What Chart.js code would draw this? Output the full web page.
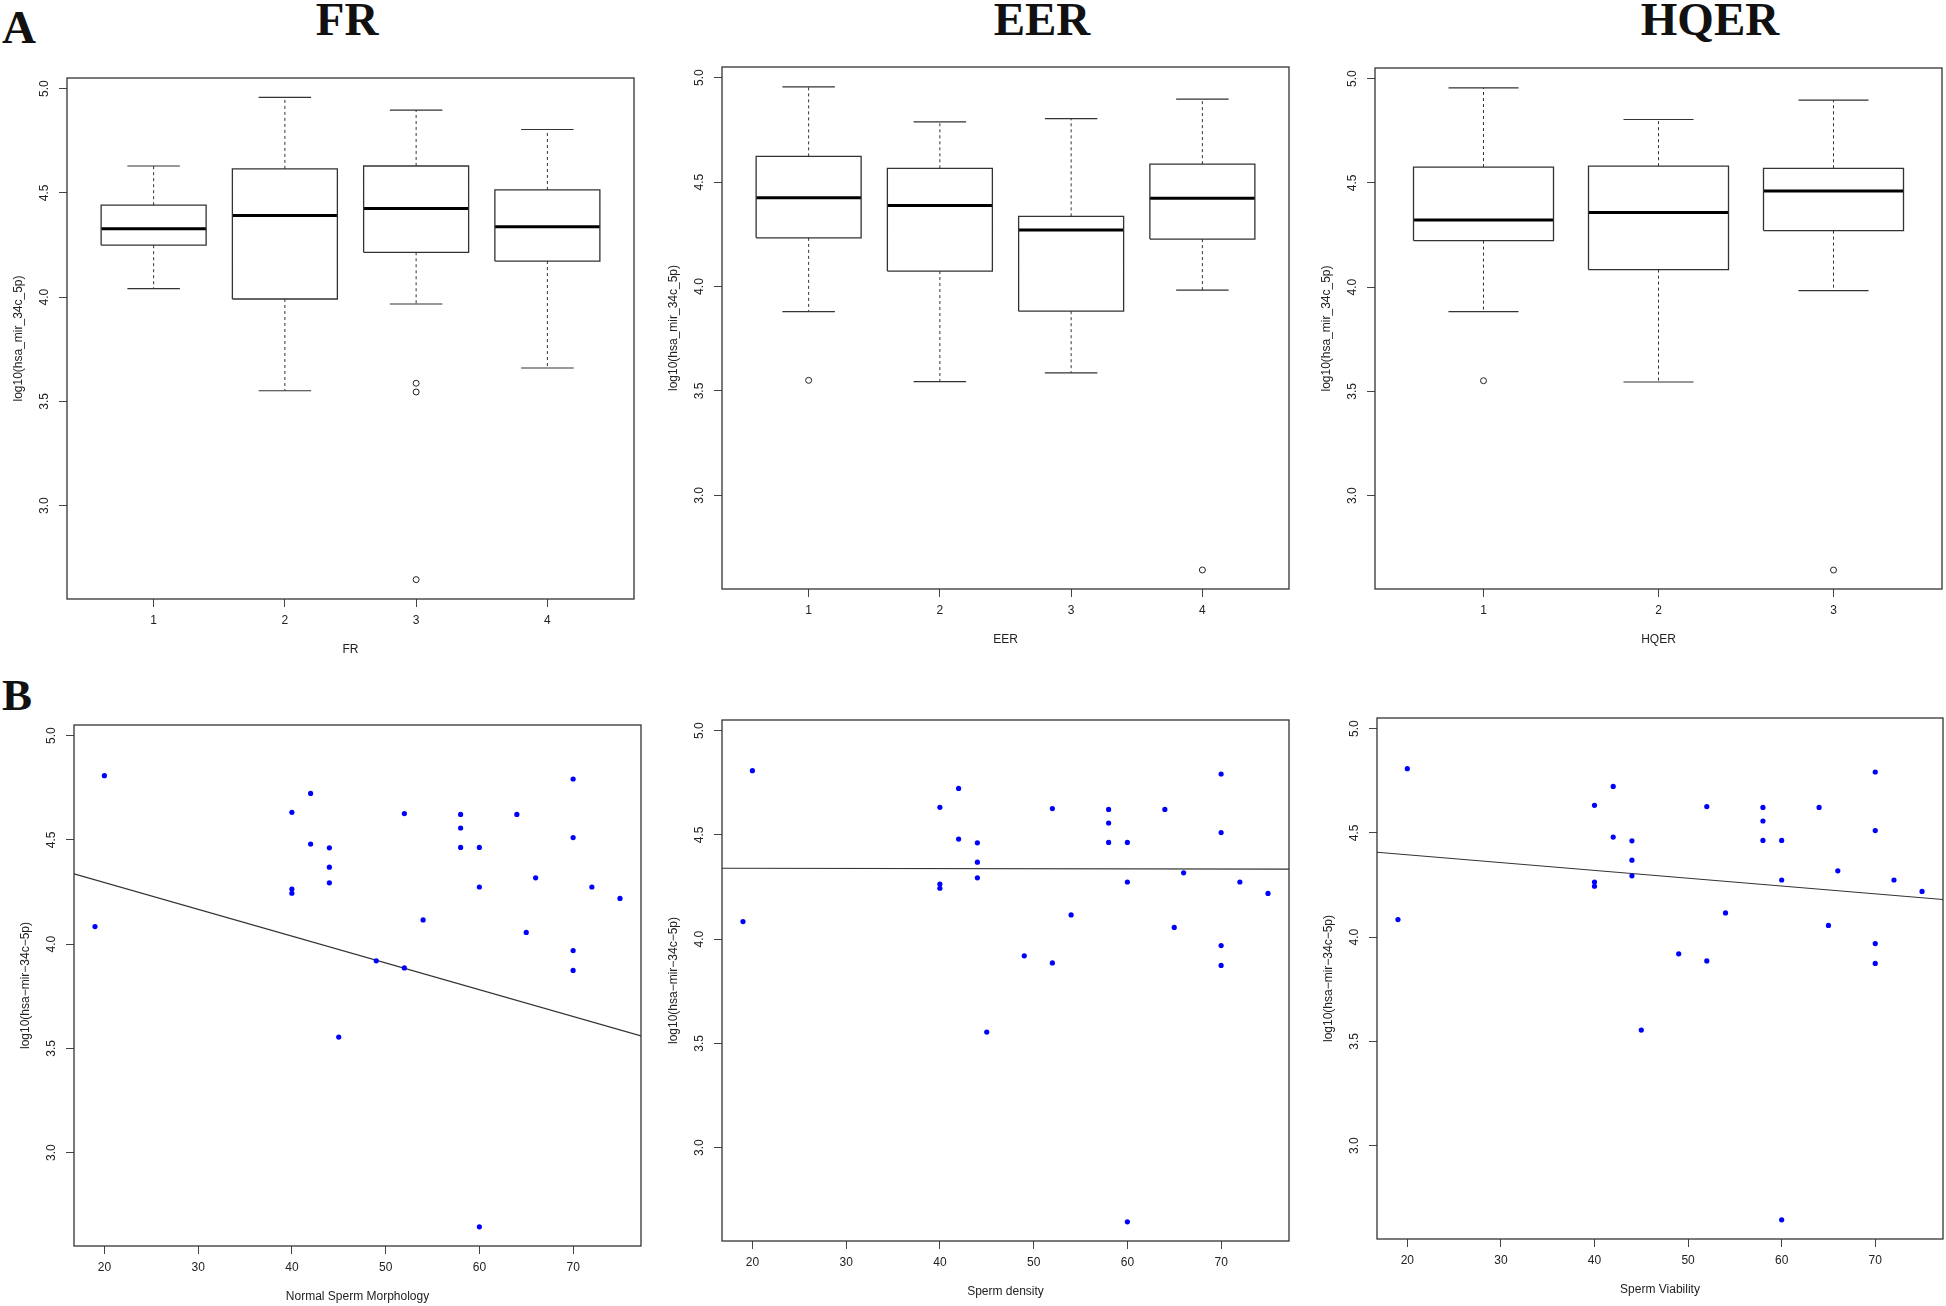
<!DOCTYPE html>
<html><head><meta charset="utf-8">
<script src="https://cdn.jsdelivr.net/npm/chart.js@4.4.1/dist/chart.umd.min.js"></script>
<style>
html,body{margin:0;padding:0;background:#fff;overflow:hidden;width:1946px;height:1306px;position:relative;}
canvas{position:absolute;}
.big{position:absolute;font-family:"Liberation Serif","Times New Roman",serif;font-weight:bold;line-height:1;white-space:nowrap;color:#111;}
.ttl{text-align:center;width:300px;}
</style></head><body>
<div class="big" style="left:2px;top:4px;font-size:47px;">A</div>
<div class="big" style="left:2px;top:673px;font-size:45px;">B</div>
<div class="big ttl" style="left:197px;top:-4px;font-size:47px;">FR</div>
<div class="big ttl" style="left:892px;top:-4px;font-size:47px;">EER</div>
<div class="big ttl" style="left:1560px;top:-4px;font-size:47px;">HQER</div>
<script>
// ---------------- DATA ----------------
const yTickValues = [3.0, 3.5, 4.0, 4.5, 5.0];
const yAxisRange = [2.552, 5.051];

// FR boxplot (groups 1-4)
const frGroups = ["1", "2", "3", "4"];
const frLow  = [4.041, 3.551, 3.967, 3.660];
const frQ1   = [4.249, 3.991, 4.215, 4.173];
const frMed  = [4.328, 4.391, 4.425, 4.338];
const frQ3   = [4.441, 4.615, 4.629, 4.514];
const frHigh = [4.629, 4.958, 4.897, 4.804];
const frOutGroup = [3, 3, 3];
const frOutValue = [3.587, 3.545, 2.645];

// EER boxplot (groups 1-4)
const eerGroups = ["1", "2", "3", "4"];
const eerLow  = [3.880, 3.545, 3.587, 3.983];
const eerQ1   = [4.233, 4.074, 3.882, 4.227];
const eerMed  = [4.425, 4.388, 4.271, 4.423];
const eerQ3   = [4.623, 4.566, 4.336, 4.586];
const eerHigh = [4.956, 4.788, 4.804, 4.897];
const eerOutGroup = [1, 4];
const eerOutValue = [3.551, 2.643];

// HQER boxplot (groups 1-3)
const hqerGroups = ["1", "2", "3"];
const hqerLow  = [3.882, 3.545, 3.983];
const hqerQ1   = [4.223, 4.084, 4.271];
const hqerMed  = [4.322, 4.358, 4.461];
const hqerQ3   = [4.576, 4.580, 4.570];
const hqerHigh = [4.956, 4.804, 4.897];
const hqerOutGroup = [1, 3];
const hqerOutValue = [3.551, 2.643];

// Scatter samples (same points appear in all three B panels)
const sampleX = [20, 19, 40, 40, 40, 42, 42, 44, 44, 44, 45, 49, 52, 52, 54,
                 58, 58, 58, 60, 60, 60, 64, 65, 66, 70, 70, 70, 70, 72, 75];
const sampleY = [4.808, 4.084, 4.632, 4.264, 4.244, 4.723, 4.480, 4.462, 4.369, 4.294,
                 3.554, 3.920, 4.626, 3.886, 4.116, 4.622, 4.557, 4.464, 4.464, 4.274,
                 2.644, 4.622, 4.056, 4.318, 4.792, 4.511, 3.969, 3.874, 4.274, 4.219];
const scatterXTicks = [20, 30, 40, 50, 60, 70];
const scatterXRange = [16.76, 77.24];
// fitted lines: y = intercept + slope * x
const fitIntercept = [4.5525, 4.341, 4.470];
const fitSlope     = [-0.01285, -0.000066, -0.00375];

// ---------------- RENDERING ----------------
const FONT = '"Liberation Sans", Arial, Helvetica, sans-serif';
const INK = '#222';
const frame = {id: 'frame', afterDraw(c) {
  const a = c.chartArea, x = c.ctx;
  x.save(); x.strokeStyle = '#333'; x.lineWidth = 1.3;
  x.strokeRect(a.left, a.top, a.right - a.left, a.bottom - a.top);
  x.restore();
}};

function gridOpts() {
  return {display: true, drawOnChartArea: false, drawTicks: true, tickLength: 8, color: '#444', lineWidth: 1};
}
function yScale(title) {
  return {type: 'linear', min: yAxisRange[0], max: yAxisRange[1],
    afterBuildTicks: s => { s.ticks = yTickValues.map(v => ({value: v})); },
    afterFit: s => { s.width = 60; },
    grid: gridOpts(), border: {display: false},
    ticks: {minRotation: 90, maxRotation: 90, crossAlign: 'center', padding: 5.7, color: INK,
      font: {family: FONT, size: 12}, callback: v => Number(v).toFixed(1)},
    title: {display: true, text: title, color: INK, font: {family: FONT, size: 12}, padding: {top: 4.8, bottom: 0}}
  };
}
function xScale(title, range, vals, lbls, h, pb) {
  return {type: 'linear', min: range[0], max: range[1],
    afterBuildTicks: s => { s.ticks = vals.map(v => ({value: v})); },
    afterFit: s => { s.height = h; },
    grid: gridOpts(), border: {display: false},
    ticks: {autoSkip: false, minRotation: 0, maxRotation: 0, padding: 6.8, color: INK,
      font: {family: FONT, size: 12}, callback: (v, i) => lbls[i]},
    title: {display: true, text: title, color: INK, font: {family: FONT, size: 12}, padding: {top: 0, bottom: pb}}
  };
}

function boxDatasets(low, q1, med, q3, high, outG, outV) {
  const BW = 0.4, CW = 0.2, gap = {x: null, y: null};
  const boxes = [], meds = [], whisk = [], caps = [];
  q1.forEach((_, i) => {
    const g = i + 1;
    boxes.push({x: g - BW, y: q1[i]}, {x: g + BW, y: q1[i]}, {x: g + BW, y: q3[i]}, {x: g - BW, y: q3[i]}, {x: g - BW, y: q1[i]}, gap);
    meds.push({x: g - BW, y: med[i]}, {x: g + BW, y: med[i]}, gap);
    whisk.push({x: g, y: q3[i]}, {x: g, y: high[i]}, gap, {x: g, y: q1[i]}, {x: g, y: low[i]}, gap);
    caps.push({x: g - CW, y: high[i]}, {x: g + CW, y: high[i]}, gap, {x: g - CW, y: low[i]}, {x: g + CW, y: low[i]}, gap);
  });
  const line = (data, w, dash, col) => ({data, showLine: true, pointRadius: 0, borderColor: col, borderWidth: w, borderDash: dash, spanGaps: false, fill: false});
  return [
    line(whisk, 1, [3, 3], '#333'),
    line(caps, 1.2, [], '#333'),
    line(boxes, 1.3, [], '#333'),
    line(meds, 3, [], '#000'),
    {data: outG.map((g, i) => ({x: g, y: outV[i]})), showLine: false, pointRadius: 3, pointBorderWidth: 1,
     pointBorderColor: '#222', pointBackgroundColor: 'rgba(255,255,255,0)'}
  ];
}

function scatterDatasets(k) {
  const pts = sampleX.map((x, i) => ({x, y: sampleY[i]}));
  return [
    {data: pts, showLine: false, pointRadius: 2.6, pointBorderWidth: 0, pointBackgroundColor: '#0000ff'},
    {data: scatterXRange.map(x => ({x, y: fitIntercept[k] + fitSlope[k] * x})), showLine: true, pointRadius: 0,
     borderColor: '#333', borderWidth: 1.2, fill: false}
  ];
}

function makePanel(geo, datasets, xs, ys, hx) {
  const W = 60, PT = 20, PR = 10;
  const cv = document.createElement('canvas');
  const w = (geo.R - geo.L) + W + PR, h = PT + (geo.B - geo.T) + hx;
  cv.width = w; cv.height = h;
  cv.style.left = (geo.L - W) + 'px'; cv.style.top = (geo.T - PT) + 'px';
  cv.style.width = w + 'px'; cv.style.height = h + 'px';
  document.body.appendChild(cv);
  new Chart(cv, {type: 'scatter', data: {datasets},
    options: {responsive: false, animation: false, devicePixelRatio: 1, events: [],
      layout: {padding: {top: PT, right: PR, left: 0, bottom: 0}},
      plugins: {legend: {display: false}, tooltip: {enabled: false}, title: {display: false}},
      scales: {x: xs, y: ys}},
    plugins: [frame]});
}

const yTitleA = 'log10(hsa_mir_34c_5p)';
const yTitleB = 'log10(hsa\u2212mir\u221234c\u22125p)';
const range4 = [0.34, 4.66], range3 = [0.38, 3.62];

makePanel({L: 67, R: 634, T: 78, B: 599},
  boxDatasets(frLow, frQ1, frMed, frQ3, frHigh, frOutGroup, frOutValue),
  xScale('FR', range4, [1, 2, 3, 4], frGroups, 60, 2.3), yScale(yTitleA), 60);
makePanel({L: 722, R: 1289, T: 67, B: 589},
  boxDatasets(eerLow, eerQ1, eerMed, eerQ3, eerHigh, eerOutGroup, eerOutValue),
  xScale('EER', range4, [1, 2, 3, 4], eerGroups, 60, 2.3), yScale(yTitleA), 60);
makePanel({L: 1375, R: 1942, T: 68, B: 589},
  boxDatasets(hqerLow, hqerQ1, hqerMed, hqerQ3, hqerHigh, hqerOutGroup, hqerOutValue),
  xScale('HQER', range3, [1, 2, 3], hqerGroups, 60, 2.3), yScale(yTitleA), 60);

const sLbl = scatterXTicks.map(String);
makePanel({L: 74, R: 641, T: 725, B: 1246}, scatterDatasets(0),
  xScale('Normal Sperm Morphology', scatterXRange, scatterXTicks, sLbl, 60, 2.3), yScale(yTitleB), 60);
makePanel({L: 722, R: 1289, T: 720, B: 1241}, scatterDatasets(1),
  xScale('Sperm density', scatterXRange, scatterXTicks, sLbl, 60, 2.3), yScale(yTitleB), 60);
makePanel({L: 1377, R: 1943, T: 718, B: 1239}, scatterDatasets(2),
  xScale('Sperm Viability', scatterXRange, scatterXTicks, sLbl, 60, 2.3), yScale(yTitleB), 60);
</script>
</body></html>
